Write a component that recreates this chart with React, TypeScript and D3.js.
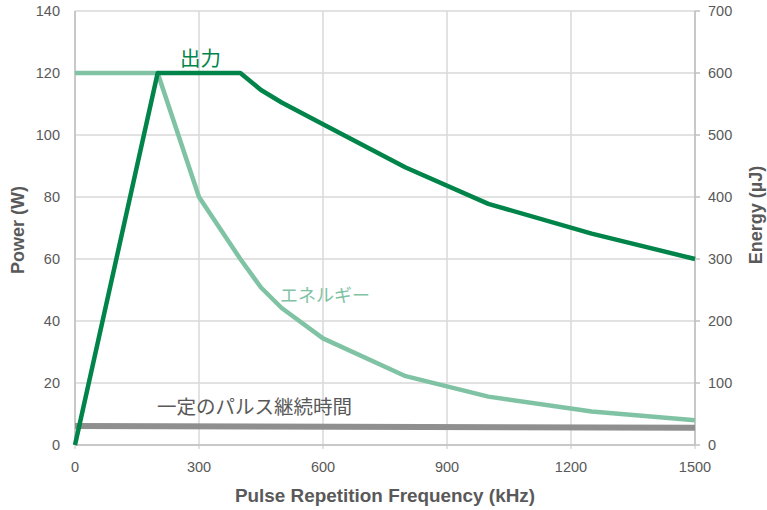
import React from "react";
import * as d3 from "d3";

const freqs = [0, 200, 300, 400, 450, 500, 600, 800, 1000, 1250, 1500];
const powerW = [0, 120, 120, 120, 114.5, 110.5, 103.5, 89.5, 77.8, 68.2, 60];
const energyFreqs = [0, 200, 300, 400, 450, 500, 600, 800, 1000, 1250, 1500];
const energyUJ = [600, 600, 400, 300, 254, 221, 172, 111, 78, 54, 40];
const durationFreqs = [0, 1500];
const durationLevel = [6.1, 5.6];
const xTicks = [0, 300, 600, 900, 1200, 1500];
const leftTicks = [0, 20, 40, 60, 80, 100, 120, 140];
const rightTicks = [0, 100, 200, 300, 400, 500, 600, 700];

const W = 767, H = 510;
const L = 75, R = 695, T = 11, B = 445;
const DARK = "#00844a";
const LIGHT = "#80c3a4";
const GRAY = "#8f8f8f";
const TXT = "#595959";
const FONT = "'Liberation Sans', Arial, sans-serif";

export default function App() {
  const x = d3.scaleLinear().domain([0, 1500]).range([L, R]);
  const yL = d3.scaleLinear().domain([0, 140]).range([B, T]);
  const yR = d3.scaleLinear().domain([0, 700]).range([B, T]);

  const powerLine = d3.line<number>().x((_, i) => x(freqs[i])).y((d) => yL(d));
  const energyLine = d3.line<number>().x((_, i) => x(energyFreqs[i])).y((d) => yR(d));
  const durLine = d3.line<number>().x((_, i) => x(durationFreqs[i])).y((d) => yL(d));

  return (
    <svg width={W} height={H} style={{ position: "absolute", left: 0, top: 0, background: "#fff" }} fontFamily={FONT}>
      {leftTicks.map((t) => (
        <line key={"h" + t} x1={L} x2={R} y1={yL(t)} y2={yL(t)} stroke="#d9d9d9" strokeWidth={1.5} />
      ))}
      {xTicks.map((t) => (
        <line key={"v" + t} x1={x(t)} x2={x(t)} y1={T} y2={B + 4} stroke="#d9d9d9" strokeWidth={1.5} />
      ))}
      <line x1={L} x2={L} y1={T} y2={B} stroke="#bfbfbf" strokeWidth={1.5} />
      <line x1={R} x2={R} y1={T} y2={B} stroke="#bfbfbf" strokeWidth={1.5} />
      <line x1={L} x2={R} y1={B} y2={B} stroke="#bfbfbf" strokeWidth={1.5} />
      {rightTicks.map((t) => (
        <line key={"rt" + t} x1={R} x2={R + 5} y1={yR(t)} y2={yR(t)} stroke="#bfbfbf" strokeWidth={1.5} />
      ))}
      {leftTicks.map((t) => (
        <text key={"lt" + t} x={60} y={yL(t)} dy="0.35em" textAnchor="end" fontSize={14.5} fill={TXT}>{t}</text>
      ))}
      {rightTicks.map((t) => (
        <text key={"rl" + t} x={708} y={yR(t)} dy="0.35em" textAnchor="start" fontSize={14.5} fill={TXT}>{t}</text>
      ))}
      {xTicks.map((t) => (
        <text key={"xl" + t} x={x(t)} y={467} dy="0.35em" textAnchor="middle" fontSize={14.5} fill={TXT}>{t}</text>
      ))}
      <path d={durLine(durationLevel) || ""} fill="none" stroke={GRAY} strokeWidth={6} />
      <path d={energyLine(energyUJ) || ""} fill="none" stroke={LIGHT} strokeWidth={4.5} strokeLinejoin="round" />
      <path d={powerLine(powerW) || ""} fill="none" stroke={DARK} strokeWidth={4.5} strokeLinejoin="round" />
      <text x={180} y={66} fontSize={20.5} fill={DARK} fontFamily="'Noto Sans CJK JP', sans-serif">出力</text>
      <text x={280} y={302} fontSize={18} fill={LIGHT} fontFamily="'Noto Sans CJK JP', sans-serif">エネルギー</text>
      <text x={157} y={414} fontSize={19.5} fill={TXT} fontFamily="'Noto Sans CJK JP', sans-serif">一定のパルス継続時間</text>
      <text x={385} y={502} textAnchor="middle" fontSize={18.5} fontWeight="bold" fill={TXT} textLength={300} lengthAdjust="spacingAndGlyphs">Pulse Repetition Frequency (kHz)</text>
      <text transform={`translate(24,230) rotate(-90)`} textAnchor="middle" fontSize={18} fontWeight="bold" fill={TXT}>Power (W)</text>
      <text transform={`translate(762,215) rotate(-90)`} textAnchor="middle" fontSize={18} fontWeight="bold" fill={TXT}>Energy (µJ)</text>
    </svg>
  );
}
